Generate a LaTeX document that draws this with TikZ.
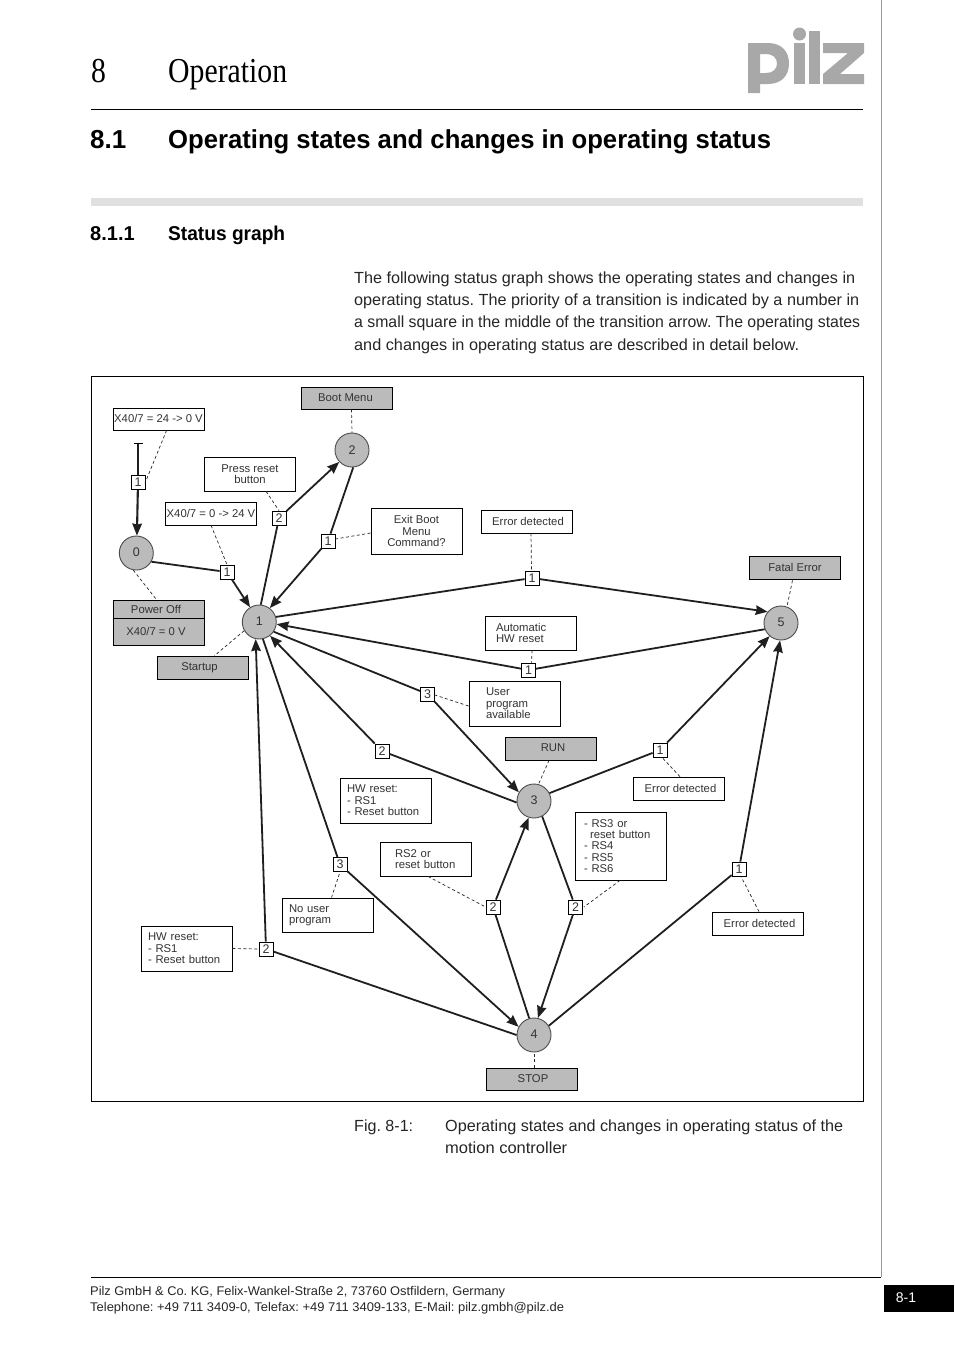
\documentclass[tikz,border=0pt]{standalone}
\usepackage{fontspec}
\usepackage{graphicx}
\setmainfont{Liberation Sans}
\newfontfamily\headserif[FakeStretch=0.85]{Liberation Serif}
\usetikzlibrary{arrows.meta,calc}
\frenchspacing
\definecolor{txt}{HTML}{333333}
\definecolor{fillg}{HTML}{BBBBBB}
\definecolor{logog}{HTML}{A8A8A8}
\newcommand\fitw[2]{\resizebox{#1pt}{\height}{#2}}
\newcommand\tsh[3]{\raisebox{#2pt}{\hspace*{\dimexpr #1pt+#1pt\relax}#3}}
\tikzset{
  x=1pt,y=-1pt,
  lbl/.style={draw=black,line width=0.8pt,fill=white,inner sep=0pt,minimum width=91pt,align=center,text=txt,font=\fontsize{11.3}{11.4}\selectfont},
  grey/.style={lbl,fill=fillg},
  lt/.style 2 args={inner xsep=#1pt,text width=#2pt,align=left},
  state/.style={circle,draw=black!70,line width=0.9pt,fill=fillg,minimum size=34pt,inner sep=0pt,text=txt,font=\fontsize{12.5}{13}\selectfont},
  sq/.style={rectangle,draw=black,line width=0.8pt,fill=white,minimum size=14pt,inner sep=0pt,text=txt,font=\fontsize{12.5}{13}\selectfont},
  tr/.style={line width=1.8pt,draw=black!88},
  tra/.style={tr,-{Stealth[length=12pt,width=9.5pt,inset=1pt]}},
  note/.style={line width=0.7pt,draw=black!85,dash pattern=on 3pt off 2.5pt},
  body/.style={anchor=base west,inner sep=0pt,text=black!85,font=\fontsize{16.1}{20}\selectfont},
  foot/.style={anchor=base west,inner sep=0pt,text=black!85,font=\fontsize{12.6}{15}\selectfont},
}
\begin{document}
\begin{tikzpicture}
\useasboundingbox (0,0) rectangle (954,1350);
\fill[white] (0,0) rectangle (954,1350);
% page furniture
\draw[line width=1pt,black] (91,109.5) -- (863,109.5);
\draw[line width=1pt,black!40] (881.5,0) -- (881.5,1277);
\draw[line width=1pt,black] (91,1277.5) -- (881,1277.5);
\fill[black!12] (91,198) rectangle (863,206);
\fill[black] (884,1285) rectangle (954,1312);
\node[anchor=base west,inner sep=0pt,font=\fontsize{35}{38}\selectfont\headserif] (ch) at (91,82.5) {8};
\node[anchor=base west,inner sep=0pt,font=\fontsize{35}{38}\selectfont\headserif] (cht) at (168,82.5) {\fitw{119}{Operation}};
\node[anchor=base west,inner sep=0pt,font=\fontsize{26}{30}\bfseries\selectfont] (s1) at (90,148) {8.1};
\node[anchor=base west,inner sep=0pt,font=\fontsize{26}{30}\bfseries\selectfont] (s1t) at (168,148) {\fitw{603}{Operating states and changes in operating status}};
\node[anchor=base west,inner sep=0pt,font=\fontsize{20}{24}\bfseries\selectfont] (s2) at (90,240.5) {8.1.1};
\node[anchor=base west,inner sep=0pt,font=\fontsize{20}{24}\bfseries\selectfont] (s2t) at (168,240.5) {\fitw{117}{Status graph}};
\node[body] (b1) at (354,283) {\fitw{501}{The following status graph shows the operating states and changes in}};
\node[body] (b2) at (354,305) {\fitw{505}{operating status. The priority of a transition is indicated by a number in}};
\node[body] (b3) at (354,327) {\fitw{506}{a small square in the middle of the transition arrow. The operating states}};
\node[body] (b4) at (354,350.5) {\fitw{445}{and changes in operating status are described in detail below.}};
\node[body] (f1) at (354,1131) {\fitw{59}{Fig. 8-1:}};
\node[body] (f2) at (445,1131) {\fitw{398}{Operating states and changes in operating status of the}};
\node[body] (f3) at (445,1153) {\fitw{122}{motion controller}};
\node[foot] (g1) at (90,1295) {\fitw{415}{Pilz GmbH \& Co. KG, Felix-Wankel-Straße 2, 73760 Ostfildern, Germany}};
\node[foot] (g2) at (90,1311) {\fitw{474}{Telephone: +49 711 3409-0, Telefax: +49 711 3409-133, E-Mail: pilz.gmbh@pilz.de}};
\node[foot,text=white,anchor=base,font=\fontsize{14}{16}\selectfont] (pg) at (906,1302.5) {8-1};
% logo
\fill[logog,even odd rule] (748,43) -- (768,43) .. controls (782,43) and (789,52) .. (789,63.5) .. controls (789,75) and (782,84) .. (768,84) -- (760,84) -- (760,93) -- (748,93) -- cycle
  (760,54) -- (766,54) .. controls (773,54) and (777,58) .. (777,63.5) .. controls (777,69) and (773,73) .. (766,73) -- (760,73) -- cycle;
\fill[logog] (794,43) rectangle (805,84);
\fill[logog] (799.5,34) circle (6.5);
\fill[logog] (809,31) rectangle (820,84);
\fill[logog] (823,43) -- (864,43) -- (864,53) -- (840,74) -- (864,74) -- (864,84) -- (823,84) -- (823,74) -- (848,53) -- (823,53) -- cycle;
% frame
\draw[line width=1pt,black] (91.5,376.5) rectangle (863.5,1101.5);
% states
\node[state] (s0) at (136.3,553) {\raisebox{1pt}{0}};
\node[state] (st1) at (259.3,622) {\raisebox{1pt}{1}};
\node[state] (st2) at (352,450) {\raisebox{0.5pt}{2}};
\node[state] (st3) at (534,801) {\raisebox{1pt}{3}};
\node[state] (st4) at (534,1035) {\raisebox{1pt}{4}};
\node[state] (st5) at (781,623) {\raisebox{1pt}{5}};
\coordinate (start) at (138,443.5);
% squares
\node[sq] (qa) at (138,482.5) {1};
\node[sq] (qb) at (227,572) {1};
\node[sq] (qc) at (279,518) {2};
\node[sq] (qd) at (328,541) {1};
\node[sq] (qe) at (532,578) {1};
\node[sq] (qf) at (528.5,670) {1};
\node[sq] (qg) at (427.5,694) {3};
\node[sq] (qh) at (382,751) {2};
\node[sq] (qi) at (660,750) {1};
\node[sq] (qj) at (340,864.5) {3};
\node[sq] (qk) at (266,949) {2};
\node[sq] (ql) at (493,907) {2};
\node[sq] (qm) at (575.5,907) {2};
\node[sq] (qn) at (739,869) {1};
% transitions
\draw[line width=0.8pt] ([xshift=-4.5pt]start) -- ([xshift=4.5pt]start);
\draw[tr,line width=2.1pt] (start) -- (qa);
\draw[tra,line width=2.1pt] (qa) -- (s0.88);
\draw[tr] (s0.330) -- (qb); \draw[tra] (qb) -- (st1.122);
\draw[tr] (st1.85) -- (qc); \draw[tra] (qc) -- (st2.223);
\draw[tr] (st2.274) -- (qd); \draw[tra] (qd) -- (st1.53);
\draw[tr] (st1.17) -- (qe); \draw[tra] (qe) -- (st5.140);
\draw[tr] (st5.201) -- (qf); \draw[tra] (qf) -- (st1.353);
\draw[tr] (st1.326) -- (qg); \draw[tra] (qg) -- (st3.150);
\draw[tr] (st3.185) -- (qh); \draw[tra] (qh) -- (st1.308);
\draw[tr] (st1.282) -- (qj); \draw[tra] (qj) -- (st4.152);
\draw[tr] (st4.180) -- (qk); \draw[tra] (qk) -- (st1.258);
\draw[tr] (st4.106) -- (ql); \draw[tra] (ql) -- (st3.252);
\draw[tr] (st3.298) -- (qm); \draw[tra] (qm) -- (st4.77);
\draw[tr] (st3.27) -- (qi); \draw[tra] (qi) -- (st5.229);
\draw[tr] (st4.32) -- (qn); \draw[tra] (qn) -- (st5.267);
% labels
\node[grey,minimum height=22pt] (nboot) at (346.5,398) {\tsh{-1}{1}{Boot Menu}};
\node[lbl,minimum height=22pt] (nx24) at (158.5,419) {\tsh{0}{0.5}{X40/7 = 24 -> 0 V}};
\node[lbl,minimum height=34pt] (npress) at (250,474) {Press reset\\button};
\node[lbl,minimum height=23pt] (nx0) at (211,513.5) {X40/7 = 0 -> 24 V};
\node[lbl,minimum height=46pt] (nexit) at (416.5,531) {Exit Boot\\Menu\\Command?};
\node[lbl,minimum height=23pt] (ne1) at (526.5,521.5) {\tsh{1.5}{0}{Error detected}};
\node[grey,minimum height=23pt] (nfatal) at (794.5,567.5) {\tsh{0.5}{1}{Fatal Error}};
\node[grey,minimum height=18pt] (npow) at (158.5,609) {\tsh{-2.5}{-0.5}{Power Off}};
\node[grey,minimum height=27pt] (nx0v) at (158.5,631.5) {\tsh{-2.5}{1}{X40/7 = 0 V}};
\node[grey,minimum height=23pt] (nstart) at (202.5,667.5) {\tsh{-3}{0}{Startup}};
\node[lbl,minimum height=34pt,lt={11}{69}] (nauto) at (530.5,633) {\vspace{-1pt}Automatic\\HW reset};
\node[lbl,minimum height=45pt,lt={17}{57}] (nuser) at (514.5,703.5) {User\\program\\available};
\node[grey,minimum height=23pt] (nrun) at (550.5,748.5) {\tsh{2.5}{1}{RUN}};
\node[lbl,minimum height=23pt] (ne2) at (678.5,788.5) {\tsh{2}{0}{Error detected}};
\node[lbl,minimum height=45pt,lt={7}{77}] (nhw1) at (385.5,800.5) {HW reset:\\- RS1\\- Reset button};
\node[lbl,minimum height=68pt,lt={9}{73}] (nrs3) at (620.5,846) {- RS3 or\\\hspace*{6pt}reset button\\- RS4\\- RS5\\- RS6};
\node[lbl,minimum height=34pt,lt={15}{61}] (nrs2) at (425.5,859) {RS2 or\\reset button};
\node[lbl,minimum height=23pt] (ne3) at (757.5,923.5) {\tsh{2}{0}{Error detected}};
\node[lbl,minimum height=34pt,lt={7}{77}] (nno) at (327.5,915) {No user\\program};
\node[lbl,minimum height=45pt,lt={7}{77}] (nhw2) at (186.5,948.5) {HW reset:\\- RS1\\- Reset button};
\node[grey,minimum height=22pt] (nstop) at (531.5,1079) {\tsh{1.5}{1}{STOP}};
% annotation links
\draw[note] ([xshift=54pt]nx24.south west) -- ([xshift=7pt,yshift=-8pt]qa.north);
\draw[note] ([xshift=62pt]npress.south west) -- (qc.north);
\draw[note] ([xshift=46pt]nx0.south west) -- (qb.north);
\draw[note] ([yshift=-2pt]nexit.west) -- ([yshift=2pt]qd.east);
\draw[note] ([xshift=5pt]nboot.south) -- (st2.north);
\draw[note] (s0.-100) -- ([xshift=-2pt]npow.north);
\draw[note] (st1.210) -- ([xshift=12pt]nstart.north);
\draw[note] ([xshift=4.5pt]ne1.south) -- ([xshift=-0.5pt]qe.north);
\draw[note] ([xshift=-2pt,yshift=-1pt]nfatal.south) -- (st5.70);
\draw[note] ([xshift=1.5pt]nauto.south) -- ([xshift=3pt]qf.north);
\draw[note] ([yshift=-2.5pt]nuser.west) -- ([yshift=-1pt]qg.east);
\draw[note] ([xshift=-1.5pt]nrun.south) -- (st3.75);
\draw[note] ([xshift=1.5pt]ne2.north) -- ([xshift=2pt]qi.south);
\draw[note] ([xshift=-0.5pt]nrs3.south) -- ([xshift=1pt]qm.east);
\draw[note] ([xshift=2.5pt]nrs2.south) -- (ql.west);
\draw[note] ([xshift=1.5pt]ne3.north) -- ([xshift=2pt]qn.south);
\draw[note] ([xshift=4pt]nno.north) -- (qj.south);
\draw[note] (nhw2.east) -- (qk.west);
\draw[note] ([xshift=2.5pt]nstop.north) -- (st4.south);
\end{tikzpicture}
\end{document}
